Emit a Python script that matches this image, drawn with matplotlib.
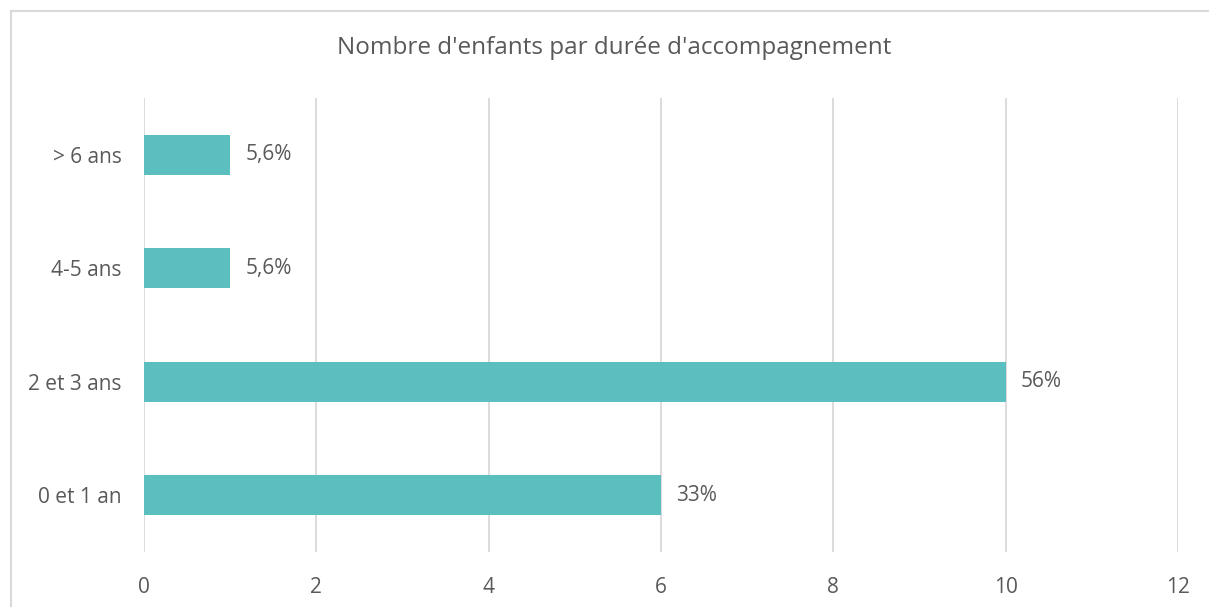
"""Horizontal bar chart: Nombre d'enfants par durée d'accompagnement."""

import matplotlib.pyplot as plt
from matplotlib.lines import Line2D

categories = ["0 et 1 an", "2 et 3 ans", "4-5 ans", "> 6 ans"]
counts = [6, 10, 1, 1]
pct_labels = ["33%", "56%", "5,6%", "5,6%"]
x_ticks = [0, 2, 4, 6, 8, 10, 12]

BAR = "#5BBFBF"
GRID = "#D9D9D9"
TEXT = "#595959"

plt.rcParams["font.family"] = ["Open Sans", "DejaVu Sans"]

fig = plt.figure(figsize=(12.09, 6.07), dpi=100)
ax = fig.add_axes([0.1191, 0.0906, 0.8553, 0.748])

ypos = range(len(categories))
ax.barh(ypos, counts, height=0.35, color=BAR, zorder=3)
for y, v, lab in zip(ypos, counts, pct_labels):
    ax.annotate(lab, (v, y), xytext=(11, 0), textcoords="offset points",
                va="center", ha="left", fontsize=15, color=TEXT)

ax.set_xlim(0, 12)
ax.set_ylim(-0.5, len(categories) - 0.5)
ax.set_xticks(x_ticks)
ax.set_yticks(list(ypos))
ax.set_yticklabels(categories)
ax.tick_params(axis="both", length=0, labelsize=15, labelcolor=TEXT)
ax.tick_params(axis="x", pad=18)
ax.tick_params(axis="y", pad=16)
ax.grid(axis="x", color=GRID, linewidth=1.3, zorder=0)
for s in ax.spines.values():
    s.set_visible(False)

fig.text(0.508, 0.921, "Nombre d'enfants par durée d'accompagnement",
         ha="center", va="center", fontsize=17.5, color=TEXT)

# chart frame: only the left and top edges are inside the picture
x0, y0 = 10.5 / 1209, 1 - 10.5 / 607
fig.add_artist(Line2D([x0, x0], [0, y0], transform=fig.transFigure,
                      color=GRID, linewidth=1.5))
fig.add_artist(Line2D([x0, 1], [y0, y0], transform=fig.transFigure,
                      color=GRID, linewidth=1.5))

fig.savefig("out.png", dpi=100)
